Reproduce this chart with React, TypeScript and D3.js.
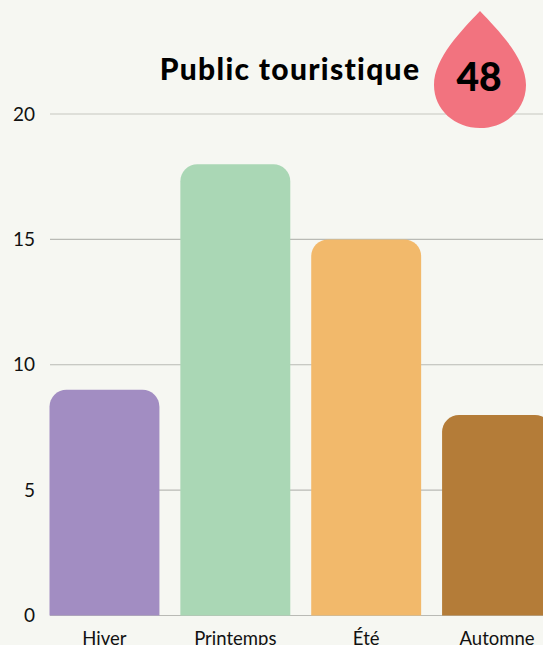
import React from "react";
import * as d3 from "d3";

const categories = ["Hiver", "Printemps", "Été", "Automne"];
const values = [9, 18, 15, 8];
const barColors = ["#a28dc2", "#aad7b5", "#f2b96b", "#b47c38"];
const yTicks = [0, 5, 10, 15, 20];
const titleText = "Public touristique";
const badgeText = "48";

const W = 543;
const H = 645;
const FONT = "Lato, 'Open Sans', sans-serif";

export default function App() {
  const y = d3.scaleLinear().domain([0, 20]).range([615.5, 114]);
  const x = d3.scaleBand<string>().domain(categories).range([49.5, 552]).paddingInner(0.16).paddingOuter(0);
  const barW = x.bandwidth();
  const r = 17;

  const barPath = (cat: string, v: number) => {
    const x0 = x(cat)!;
    const x1 = x0 + barW;
    const yTop = y(v);
    const p = d3.path();
    p.moveTo(x0, y(0));
    p.lineTo(x0, yTop + r);
    p.arcTo(x0, yTop, x0 + r, yTop, r);
    p.lineTo(x1 - r, yTop);
    p.arcTo(x1, yTop, x1, yTop + r, r);
    p.lineTo(x1, y(0));
    p.closePath();
    return p.toString();
  };

  const drop = d3.path();
  drop.moveTo(480, 11);
  drop.bezierCurveTo(462, 30, 434, 58, 434, 85);
  drop.bezierCurveTo(434, 110, 455, 128, 480, 128);
  drop.bezierCurveTo(505, 128, 526, 110, 526, 85);
  drop.bezierCurveTo(526, 58, 498, 30, 480, 11);
  drop.closePath();

  return (
    <svg width={W} height={H} viewBox={`0 0 ${W} ${H}`} style={{ position: "fixed", left: 0, top: 0, background: "#f6f7f2", display: "block" }}>
      <g>
        {yTicks.map((t) => (
          <g key={t}>
            <line x1={50} x2={W} y1={y(t)} y2={y(t)} stroke={t === 20 ? "#d6d7d1" : "#b9bab5"} strokeWidth={t === 20 ? 1.6 : 1.2} />
            <text x={35} y={y(t) + 6.5} textAnchor="end" fontFamily={FONT} fontSize={19} fill="#111">{t}</text>
          </g>
        ))}
      </g>
      {categories.map((c, i) => (
        <path key={c} d={barPath(c, values[i])} fill={barColors[i]} />
      ))}
      {categories.map((c) => (
        <text key={c} x={x(c)! + barW / 2} y={644.5} textAnchor="middle" fontFamily={FONT} fontSize={18.5} fill="#111">{c}</text>
      ))}
      <text x={290} y={79.5} textAnchor="middle" fontFamily={FONT} fontWeight={900} fontSize={30} letterSpacing={1.3} fill="#000">{titleText}</text>
      <path d={drop.toString()} fill="#f2737f" />
      <text x={479} y={91} textAnchor="middle" fontFamily={FONT} fontWeight={900} fontSize={39} fill="#000">{badgeText}</text>
    </svg>
  );
}
